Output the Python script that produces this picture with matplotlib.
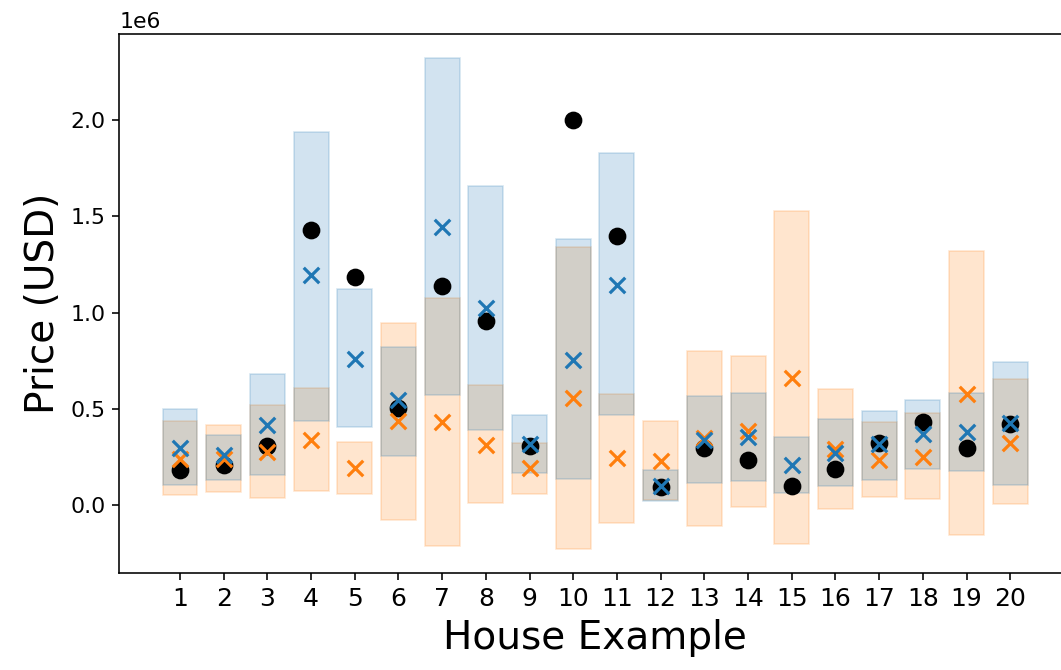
import numpy as np
import matplotlib
matplotlib.use("Agg")
import matplotlib.pyplot as plt

houses = np.arange(1, 21)

# true sale prices (black dots)
actual = [0.186, 0.212, 0.310, 1.426, 1.183, 0.506, 1.140, 0.956, 0.306, 2.000,
          1.398, 0.093, 0.298, 0.237, 0.103, 0.191, 0.324, 0.431, 0.298, 0.422]

# model A (blue) prediction and interval
pred_a = [0.298, 0.259, 0.419, 1.192, 0.758, 0.546, 1.445, 1.022, 0.319, 0.756,
          1.143, 0.099, 0.339, 0.354, 0.210, 0.274, 0.320, 0.372, 0.380, 0.426]
low_a = [0.107, 0.134, 0.160, 0.439, 0.404, 0.256, 0.574, 0.393, 0.168, 0.135,
         0.469, 0.025, 0.118, 0.127, 0.062, 0.099, 0.132, 0.188, 0.178, 0.107]
high_a = [0.500, 0.364, 0.679, 1.934, 1.122, 0.823, 2.317, 1.657, 0.469, 1.382,
          1.826, 0.181, 0.565, 0.584, 0.357, 0.450, 0.491, 0.546, 0.585, 0.745]

# model B (orange) prediction and interval
pred_b = [0.238, 0.238, 0.276, 0.339, 0.196, 0.439, 0.430, 0.312, 0.196, 0.559,
          0.247, 0.229, 0.348, 0.385, 0.663, 0.293, 0.234, 0.252, 0.579, 0.324]
low_b = [0.053, 0.071, 0.036, 0.076, 0.057, -0.077, -0.210, 0.011, 0.057, -0.225,
         -0.091, 0.028, -0.107, -0.008, -0.200, -0.021, 0.044, 0.034, -0.156, 0.007]
high_b = [0.438, 0.419, 0.519, 0.607, 0.330, 0.948, 1.077, 0.625, 0.325, 1.338,
          0.576, 0.437, 0.801, 0.774, 1.525, 0.602, 0.431, 0.478, 1.318, 0.656]

scale = 1e6
actual = np.array(actual) * scale
pred_a = np.array(pred_a) * scale
low_a = np.array(low_a) * scale
high_a = np.array(high_a) * scale
pred_b = np.array(pred_b) * scale
low_b = np.array(low_b) * scale
high_b = np.array(high_b) * scale

fig = plt.figure(figsize=(1061 / 144, 670 / 144), dpi=144)
ax = fig.add_axes([0.1124, 0.1443, 0.897, 0.805])

bars_b = ax.bar(houses, high_b - low_b, bottom=low_b, width=0.8, color="C1",
                edgecolor="C1", linewidth=0.8, alpha=0.2)
bars_a = ax.bar(houses, high_a - low_a, bottom=low_a, width=0.8, color="C0",
                edgecolor="C0", linewidth=0.8, alpha=0.2)
# let the y limits get the normal margins
for p in list(bars_a) + list(bars_b):
    p.sticky_edges.y.clear()

ax.scatter(houses, actual, color="black", s=62, zorder=3)
ax.scatter(houses, pred_b, color="C1", marker="x", s=60, linewidths=1.6, zorder=4)
ax.scatter(houses, pred_a, color="C0", marker="x", s=60, linewidths=1.6, zorder=5)

ax.set_xticks(houses)
ax.tick_params(axis="x", labelsize=12.5)
ax.tick_params(axis="y", labelsize=11)
ax.yaxis.get_offset_text().set_fontsize(11)
ax.set_xlabel("House Example", fontsize=19.5)
ax.set_ylabel("Price (USD)", fontsize=19.5)

fig.savefig("out.png", dpi=144)
